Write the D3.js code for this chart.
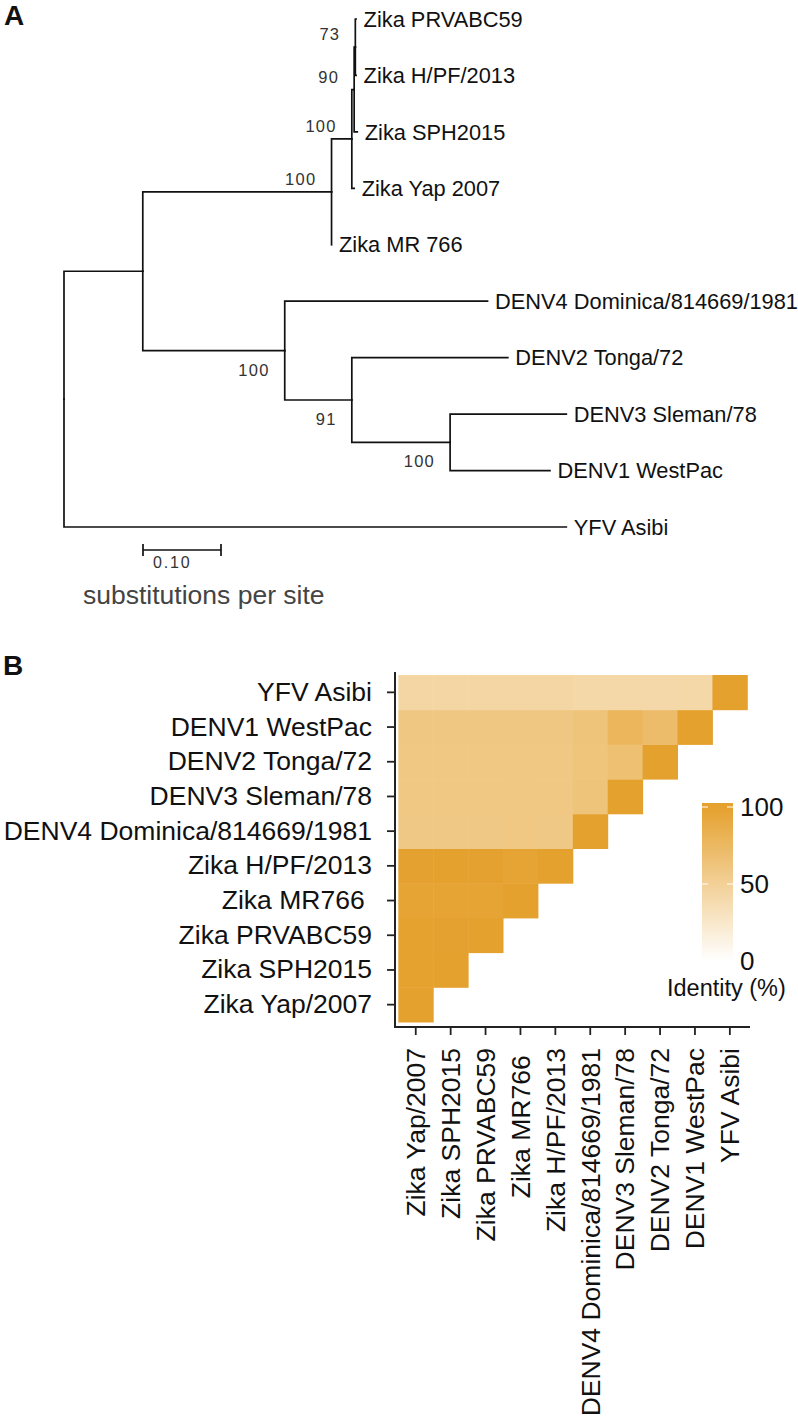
<!DOCTYPE html>
<html><head><meta charset="utf-8">
<script src="https://cdn.jsdelivr.net/npm/d3@7"></script>
<style>
html,body{margin:0;padding:0;background:#fff;}
svg{display:block;font-family:"Liberation Sans",Arial,Helvetica,sans-serif;}
</style></head><body>
<svg id="chart" width="798" height="1421"></svg>
<script>
// ================= DATA =================
// Panel A: phylogenetic tree (node id, parent id, branch length in substitutions/site, bootstrap)
const nodeIds = ["root","n1","YFV Asibi","zika","denv","zB","Zika MR 766","zC","Zika Yap 2007","zD","Zika SPH2015","Zika PRVABC59","Zika H/PF/2013","DENV4 Dominica/814669/1981","dF","DENV2 Tonga/72","dG","DENV3 Sleman/78","DENV1 WestPac"];
const nodeParents = ["","root","root","n1","n1","zika","zika","zB","zB","zC","zC","zD","zD","denv","denv","dF","dF","dG","dG"];
const branchLengths = [0,0.101,0.644,0.242,0.182,0.026,0,0.003,0.003,0.0015,0.004,0.001,0.001,0.260,0.086,0.200,0.126,0.149,0.128];
const bootstrap = [null,null,null,100,100,100,null,90,null,73,null,null,null,null,91,null,100,null,null];
const scaleBarValue = 0.10;
const scaleBarLabel = "0.10";
const scaleBarTitle = "substitutions per site";

// Panel B: pairwise identity heatmap (lower triangle, rows/cols in strain order)
const strains = ["Zika Yap/2007","Zika SPH2015","Zika PRVABC59","Zika MR766 ","Zika H/PF/2013","DENV4 Dominica/814669/1981","DENV3 Sleman/78","DENV2 Tonga/72","DENV1 WestPac","YFV Asibi"];
const identity = [
  [100],
  [99.4,100],
  [99.3,99.7,100],
  [97.0,96.9,96.8,100],
  [99.5,99.8,99.7,96.9,100],
  [58.6,58.6,58.6,58.7,58.6,100],
  [59.2,59.2,59.2,59.3,59.2,63.5,100],
  [59.0,59.0,59.0,59.1,59.0,63.0,67.5,100],
  [59.6,59.6,59.6,59.7,59.6,63.8,78.0,71.0,100],
  [43.5,43.5,43.5,43.6,43.5,41.5,41.5,41.3,41.6,100]
];
const legendBreaks = [0,50,100];
const legendTitle = "Identity (%)";

// ================= DRAW =================
const svg = d3.select("#chart");
const ink = "#111";

// ---------- Panel A ----------
svg.append("text").attr("x",4).attr("y",25).attr("font-size",28).attr("font-weight","bold").attr("fill",ink).text("A");

const table = nodeIds.map((id,i)=>({id, parent:nodeParents[i], len:branchLengths[i], support:bootstrap[i]}));
const root = d3.stratify().id(d=>d.id).parentId(d=>d.parent||null)(table);
root.eachBefore(d=>{ d.dist = (d.parent? d.parent.dist : 0) + d.data.len; });

const xs = d3.scaleLinear().domain([0,1]).range([64,844]);
const leaves = root.leaves();
const ys = d3.scalePoint().domain(leaves.map(d=>d.id)).range([19,527]);
leaves.forEach(d=>{ d.py = ys(d.id); });
root.eachAfter(d=>{ if(d.children) d.py = d3.mean(d.children, c=>c.py); d.px = xs(d.dist); });

const gTree = svg.append("g");
gTree.selectAll("path.branch").data(root.descendants().filter(d=>d.parent))
  .join("path").attr("class","branch")
  .attr("d", d=>`M${d.parent.px},${d.parent.py}V${d.py}H${d.px}`)
  .attr("fill","none").attr("stroke",ink).attr("stroke-width",1.7).attr("stroke-linecap","square");

gTree.selectAll("text.leaf").data(leaves).join("text").attr("class","leaf")
  .attr("x", d=>d.px+7.5).attr("y", d=>d.py).attr("dy","0.35em")
  .attr("font-size",21.8).attr("fill",ink).text(d=>d.id);

gTree.selectAll("text.boot").data(root.descendants().filter(d=>d.data.support!=null))
  .join("text").attr("class","boot")
  .attr("x", d=>d.px-15)
  .attr("y", d=> d.parent.children[0]===d ? d.py-7 : d.py+25)
  .attr("text-anchor","end").attr("font-size",16.5).attr("letter-spacing",1.3)
  .attr("fill","#333").text(d=>d.data.support);

// scale bar
const sbX0 = 143, sbY = 550;
const sbX1 = sbX0 + (xs(scaleBarValue)-xs(0));
const gSb = svg.append("g").attr("stroke",ink).attr("stroke-width",1.7);
gSb.append("line").attr("x1",sbX0).attr("x2",sbX1).attr("y1",sbY).attr("y2",sbY);
gSb.append("line").attr("x1",sbX0).attr("x2",sbX0).attr("y1",sbY-6).attr("y2",sbY+6);
gSb.append("line").attr("x1",sbX1).attr("x2",sbX1).attr("y1",sbY-6).attr("y2",sbY+6);
svg.append("text").attr("x",sbX0+10).attr("y",568).attr("font-size",16).attr("letter-spacing",1.8).attr("fill","#333").text(scaleBarLabel);
svg.append("text").attr("x",83).attr("y",604).attr("font-size",26.5).attr("fill","#444").text(scaleBarTitle);

// ---------- Panel B ----------
svg.append("text").attr("x",3).attr("y",675).attr("font-size",28).attr("font-weight","bold").attr("fill",ink).text("B");

const xb = d3.scaleBand().domain(strains).range([398.3,747.3]).padding(0);
const yb = d3.scaleBand().domain(strains.slice().reverse()).range([675,1022]).padding(0);
const orange = "#E5A12E";
const color = d3.scaleLinear().domain([0,100]).range(["#ffffff",orange]).interpolate(d3.interpolateRgb);

const cells = [];
identity.forEach((row,k)=> row.forEach((v,j)=> cells.push({row:strains[k], col:strains[j], value:v})));

svg.append("g").selectAll("rect").data(cells).join("rect")
  .attr("x", d=>xb(d.col)).attr("y", d=>yb(d.row))
  .attr("width", xb.bandwidth()+0.5).attr("height", yb.bandwidth()+0.5)
  .attr("fill", d=>color(d.value));

const axisX0 = 395, axisY0 = 1027;
const gy = svg.append("g").attr("transform",`translate(${axisX0},0)`)
  .call(d3.axisLeft(yb).tickSize(8).tickPadding(15));
gy.select(".domain").remove();
gy.selectAll(".tick line").attr("stroke","#222").attr("stroke-width",1.8);
gy.selectAll(".tick text").attr("font-size",26.5).attr("fill",ink).attr("font-family",null).style("white-space","pre");

const gx = svg.append("g").attr("transform",`translate(0,${axisY0})`)
  .call(d3.axisBottom(xb).tickSize(8));
gx.select(".domain").remove();
gx.selectAll(".tick line").attr("stroke","#222").attr("stroke-width",1.8);
gx.selectAll(".tick text").attr("font-size",26.5).attr("fill",ink).attr("font-family",null)
  .style("white-space","pre")
  .attr("transform","rotate(-90)").attr("text-anchor","end")
  .attr("x",-21).attr("y",0).attr("dy","0.35em");

svg.append("path").attr("d",`M${axisX0},672V${axisY0}H750`).attr("fill","none").attr("stroke","#222").attr("stroke-width",2);

// legend colorbar
const lg = d3.scaleLinear().domain([0,100]).range([961,807]);
const barX = 702, barW = 31, barTop = 803, barBot = 961;
const defs = svg.append("defs");
const grad = defs.append("linearGradient").attr("id","idgrad").attr("x1",0).attr("x2",0).attr("y1",1).attr("y2",0);
d3.range(0,21).forEach(i=>{
  const v = lg.invert(barBot + (barTop-barBot)*i/20);
  grad.append("stop").attr("offset", (i/20)).attr("stop-color", color(Math.min(100,Math.max(0,v))));
});
svg.append("rect").attr("x",barX).attr("y",barTop).attr("width",barW).attr("height",barBot-barTop).attr("fill","url(#idgrad)");
const gl = svg.append("g");
gl.selectAll("line.l").data(legendBreaks).join("line").attr("class","l")
  .attr("x1",barX).attr("x2",barX+6).attr("y1",d=>lg(d)).attr("y2",d=>lg(d)).attr("stroke","#fff").attr("stroke-width",1);
gl.selectAll("line.r").data(legendBreaks).join("line").attr("class","r")
  .attr("x1",barX+barW-6).attr("x2",barX+barW).attr("y1",d=>lg(d)).attr("y2",d=>lg(d)).attr("stroke","#fff").attr("stroke-width",1);
gl.selectAll("text").data(legendBreaks).join("text")
  .attr("x",740).attr("y",d=>lg(d)).attr("dy","0.35em").attr("font-size",26).attr("fill",ink).text(d=>d);
svg.append("text").attr("x",667).attr("y",996).attr("font-size",23.5).attr("fill",ink).text(legendTitle);
</script>
</body></html>
